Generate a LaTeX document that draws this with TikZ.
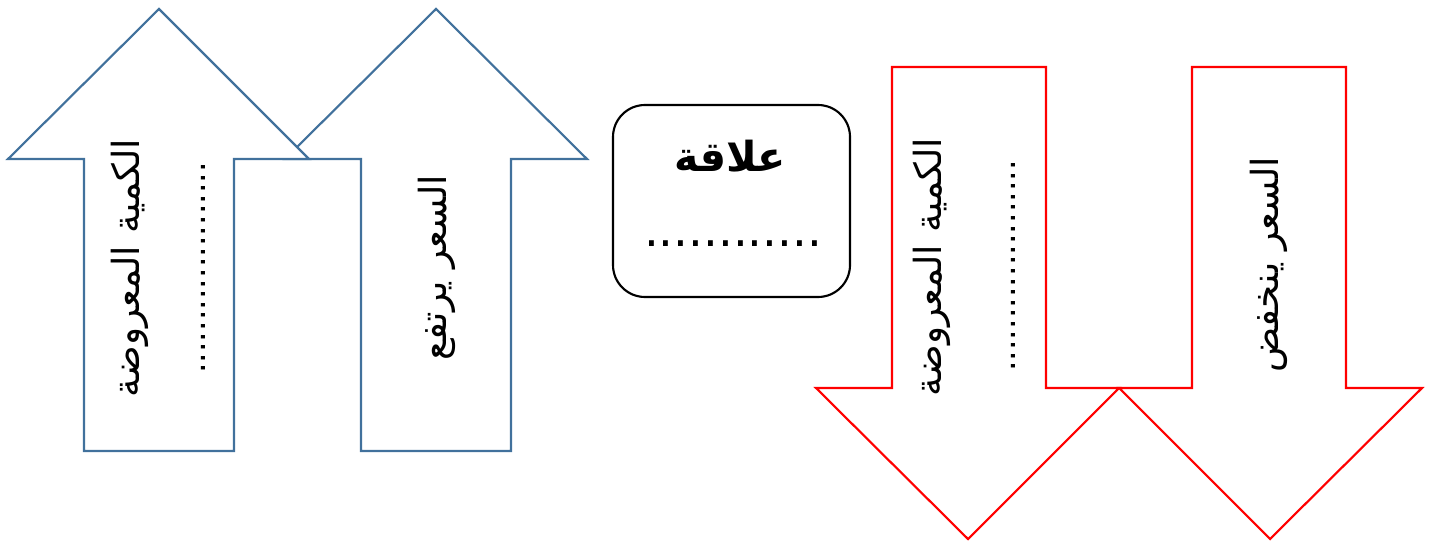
\documentclass[tikz,border=0pt]{standalone}
\usepackage{fontspec}
\newfontfamily\arabicfont[Script=Arabic]{DejaVu Sans}
\TeXXeTstate=1
\definecolor{arrowblue}{HTML}{41719C}
\definecolor{arrowred}{HTML}{FF0000}
\begin{document}
\begin{tikzpicture}[x=0.75pt,y=-0.75pt,
  bluearrow/.style={draw=arrowblue,line width=1.6pt,fill=white,line join=miter},
  redarrow/.style={draw=arrowred,line width=1.6pt,fill=white,line join=miter},
  relbox/.style={draw=black,line width=1.6pt,rounded corners=24pt},
  vlabel/.style={rotate=90,inner sep=0pt,font=\arabicfont\fontsize{28}{32}\selectfont},
  vdots/.style={rotate=90,inner sep=0pt,font=\arabicfont\fontsize{25}{30}\selectfont},
  boxlabel/.style={inner sep=0pt,font=\arabicfont\bfseries\fontsize{31}{36}\selectfont},
  boxdots/.style={inner sep=0pt,font=\arabicfont\fontsize{35}{40}\selectfont}]
\useasboundingbox (0,0) rectangle (1432,542);
% blue arrows (second first, first drawn on top)
\path[bluearrow] (361,451) -- (361,159) -- (285,159) -- (436,9) -- (587,159) -- (511,159) -- (511,451) -- cycle;
\path[bluearrow] (84,451) -- (84,159) -- (8,159) -- (159,9) -- (309,159) -- (234,159) -- (234,451) -- cycle;
% red arrows
\path[redarrow] (892,67) -- (1046,67) -- (1046,388) -- (1119,388) -- (968,539) -- (816,388) -- (892,388) -- cycle;
\path[redarrow] (1192,67) -- (1346,67) -- (1346,388) -- (1422,388) -- (1270,539) -- (1119,388) -- (1192,388) -- cycle;
% middle box
\draw[relbox] (613,105) rectangle (850,297);
% texts
\node[vlabel] (q1) at (130,268) {\beginR الكمية المعروضة\endR};
\node[vdots] (d1) at (203,268) {....................};
\node[vlabel] (p1) at (437,268) {\beginR السعر يرتفع\endR};
\node[boxlabel] (rel) at (730,156) {\beginR علاقة\endR};
\node[boxdots] (reld) at (733,244) {............};
\node[vlabel] (q2) at (932,267) {\beginR الكمية المعروضة\endR};
\node[vdots] (d2) at (1013,266) {....................};
\node[vlabel] (p2) at (1269,265) {\beginR السعر ينخفض\endR};
\end{tikzpicture}
\end{document}
